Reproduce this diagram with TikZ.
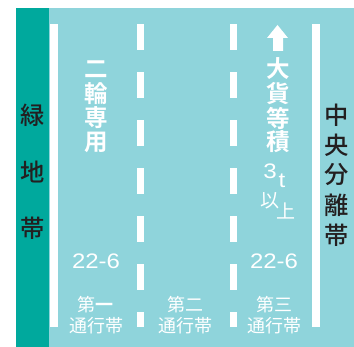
\documentclass[tikz,border=0pt]{standalone}
\usepackage{fontspec}
\setmainfont{Liberation Sans}
\newfontfamily\cjk{Noto Sans CJK JP}
\newfontfamily\cjkb{Noto Sans CJK JP Bold}
\newfontfamily\cjkm{Noto Sans CJK JP Medium}
\definecolor{greenbelt}{RGB}{0,169,157}
\definecolor{road}{RGB}{143,212,219}
\definecolor{ink}{RGB}{35,31,32}
\tikzset{
  x=1pt,y=-1pt,
  solidline/.style={fill=white,draw=none},
  dashbar/.style={fill=white,draw=none},
  bigblack/.style={text=ink,inner sep=0pt,font=\fontsize{24.3}{24.3}\selectfont\cjkm},
  markw/.style={text=white,inner sep=0pt,font=\fontsize{23.5}{23.5}\selectfont\cjkb},
  markn/.style={text=white,inner sep=0pt,font=\fontsize{19}{19}\selectfont\cjk},
  lettermark/.style={text=white,inner sep=0pt,xscale=1.15,font=\fontsize{21}{21}\selectfont},
  lanelabel/.style={text=white,inner sep=0pt,align=center,font=\fontsize{18}{21.5}\selectfont\cjk},
  speed/.style={text=white,inner sep=0pt,xscale=1.14,font=\fontsize{21}{21}\selectfont},
}
\begin{document}
\begin{tikzpicture}
\useasboundingbox (0,0) rectangle (354,347);
\fill[fill=road] (49,8) rectangle (354,347);
\fill[fill=greenbelt] (16,8) rectangle (49,347);
\fill[solidline] (50,24) rectangle (58,327);
\fill[solidline] (312,24) rectangle (320,327);
\foreach \dx in {137,230}{
  \foreach \dy in {24,72,120,168,216,264}{
    \fill[dashbar] (\dx,\dy) rectangle +(7.3,26);
  }
  \fill[dashbar] (\dx,312) rectangle +(7.3,15);
}
\fill[white] (267,38) -- (277.5,25) -- (288,38) -- (283,38) -- (283,51) -- (273,51) -- (273,38) -- cycle;
\node[bigblack] (g1) at (33,115) {緑};
\node[bigblack] (g2) at (33,172) {地};
\node[bigblack] (g3) at (33,228) {帯};
\node[bigblack] (c1) at (337,115) {中};
\node[bigblack] (c2) at (337,145) {央};
\node[bigblack] (c3) at (337,175) {分};
\node[bigblack] (c4) at (337,205) {離};
\node[bigblack] (c5) at (337,235) {帯};
\node[markw] (m1) at (96,69) {二};
\node[markw] (m2) at (96,94) {輪};
\node[markw] (m3) at (96,118) {専};
\node[markw] (m4) at (96,142) {用};
\node[markw] (t1) at (278,69) {大};
\node[markw] (t2) at (278,94) {貨};
\node[markw] (t3) at (278,118) {等};
\node[markw] (t4) at (278,142) {積};
\node[lettermark] (w3) at (270,171) {3};
\node[lettermark] (wt) at (282,181) {t};
\node[markn] (w4) at (270,201) {以};
\node[markn] (w5) at (286,211) {上};
\node[speed] (s1) at (96,261) {22-6};
\node[speed] (s2) at (274,261) {22-6};
\node[lanelabel] (l1) at (96,315) {第{\cjkb 一}\\通行帯};
\node[lanelabel] (l2) at (185,315) {第二\\通行帯};
\node[lanelabel] (l3) at (274,315) {第三\\通行帯};
\end{tikzpicture}
\end{document}
